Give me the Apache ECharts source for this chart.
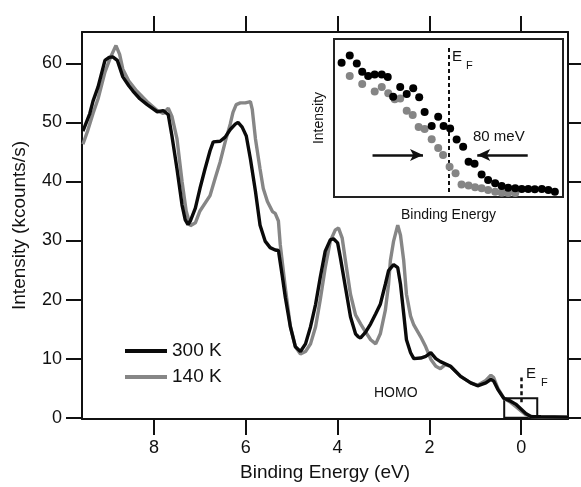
<!DOCTYPE html>
<html>
<head>
<meta charset="utf-8">
<script src="https://cdn.jsdelivr.net/npm/echarts@6/dist/echarts.min.js"></script>
<style>
html,body{margin:0;padding:0;background:#fff;}
#chart{width:581px;height:487px;}
</style>
</head>
<body>
<div id="chart"></div>
<script>
// ---- Main spectra: binding energy (eV) and intensity (kcounts/s) ----
var be300 = [9.55,9.51,9.40,9.33,9.22,9.07,8.98,8.90,8.80,8.68,8.55,8.46,8.31,8.15,7.93,7.80,7.69,7.61,7.50,7.39,7.32,7.26,7.21,7.10,7.00,6.89,6.78,6.71,6.56,6.45,6.34,6.23,6.17,6.08,5.99,5.90,5.79,5.69,5.58,5.47,5.36,5.29,5.21,5.14,5.03,4.92,4.81,4.70,4.59,4.48,4.38,4.27,4.16,4.09,4.00,3.94,3.83,3.72,3.61,3.55,3.50,3.39,3.28,3.17,3.07,2.96,2.89,2.78,2.69,2.63,2.56,2.50,2.41,2.34,2.19,2.08,1.97,1.93,1.86,1.76,1.54,1.32,1.10,0.95,0.77,0.66,0.60,0.51,0.38,0.23,0.12,0.01,-0.10,-0.21,-0.43,-1.02];
var int300 = [48.5,48.8,51.5,53.6,56.0,60.5,61.0,61.1,60.5,57.7,56.2,55.3,54.0,53.0,51.8,52.0,51.3,47.7,42.1,36.0,33.5,32.7,33.3,35.5,38.8,42.1,45.2,46.7,46.8,47.5,48.8,49.7,50.0,49.2,47.7,43.8,38.3,32.6,29.9,28.8,28.4,28.3,24.2,20.4,15.4,12.0,11.2,12.5,15.4,19.2,23.7,28.2,30.1,30.3,29.6,27.1,22.1,17.1,14.2,13.7,13.5,14.5,15.9,17.6,19.2,22.6,24.9,25.9,25.4,22.6,17.6,13.2,11.0,10.0,10.1,10.4,11.0,11.2,10.0,9.5,8.7,7.0,5.9,5.4,5.9,6.5,6.2,4.8,3.3,2.8,2.3,1.5,0.7,0.2,0.15,0.1];
var be140 = [9.55,9.45,9.33,9.22,9.07,8.95,8.83,8.75,8.68,8.55,8.40,8.15,7.93,7.80,7.69,7.61,7.50,7.39,7.30,7.21,7.10,7.00,6.78,6.67,6.56,6.45,6.34,6.28,6.21,6.12,6.01,5.90,5.86,5.79,5.69,5.62,5.53,5.42,5.36,5.29,5.25,5.14,5.03,4.92,4.81,4.70,4.59,4.48,4.38,4.27,4.16,4.05,3.98,3.90,3.83,3.72,3.61,3.50,3.39,3.28,3.17,3.07,2.96,2.89,2.85,2.78,2.69,2.63,2.56,2.50,2.41,2.34,2.19,2.08,1.97,1.86,1.76,1.65,1.54,1.32,1.10,0.95,0.77,0.66,0.60,0.51,0.38,0.23,0.12,0.01,-0.10,-0.21,-0.43,-1.02];
var int140 = [46.3,48.5,51.5,54.0,58.5,61.0,63.0,61.5,59.0,57.0,55.5,53.5,52.0,51.5,52.4,51.0,47.2,40.0,35.0,32.5,33.0,35.0,37.6,40.5,43.3,46.7,49.7,51.7,53.0,53.3,53.3,53.5,52.2,47.2,42.1,38.8,36.6,34.9,34.6,33.3,29.3,22.0,15.5,12.0,10.8,11.2,12.5,15.4,19.9,25.4,29.9,31.8,32.1,30.4,26.6,20.9,17.4,15.9,14.5,13.2,12.5,14.2,18.2,22.6,26.6,29.9,32.6,30.9,26.6,20.9,17.2,15.7,13.7,12.0,9.9,8.7,8.3,9.0,8.7,7.0,5.9,5.5,6.3,7.2,6.8,5.0,3.3,2.6,1.9,1.2,0.5,0.2,0.1,0.1];

// ---- Inset: energy relative to E_F (meV) and intensity (arb. units) ----
var insetBE300 = [197,182,169,159,148,136,123,112,102,89,77,65,54,44,31,19,9,-3,-15,-27,-37,-48,-61,-73,-86,-98,-110,-123,-135,-147,-159,-172,-184,-196];
var insetI300 = [85.0,89.6,84.5,79.3,76.6,77.5,77.5,75.9,63.5,69.6,65.2,68.8,63.1,53.8,44.9,50.8,44.9,43.4,36.4,31.8,22.3,21.1,14.2,10.8,8.7,7.0,5.9,5.5,5.1,5.1,4.9,5.1,4.4,3.4];
var insetBE140 = [182,159,136,123,111,99,89,77,66,55,44,31,19,10,-2,-13,-24,-37,-49,-61,-73,-86,-98,-110,-123];
var insetI140 = [76.6,71.5,66.8,69.6,65.6,61.8,62.3,54.6,51.9,44.3,43.0,36.5,31.0,26.6,19.2,15.0,7.9,7.3,6.1,5.5,4.4,3.4,2.7,2.5,2.5];

// ---- Tick values ----
var xTicks = [0,2,4,6,8];
var yTicks = [0,10,20,30,40,50,60];
var seriesNames = ['300 K','140 K'];

function pairs(xs, ys){ return xs.map(function(x,i){ return [x, ys[i]]; }); }

var FONT = 'Liberation Sans, Arial, Helvetica, sans-serif';
var chart = echarts.init(document.getElementById('chart'), null, {renderer:'canvas'});

var frameLine = {show:true, onZero:false, lineStyle:{color:'#111', width:2}};
var tickStyle = {color:'#111', width:2};

chart.setOption({
  animation:false,
  backgroundColor:'#fff',
  textStyle:{fontFamily:FONT},
  legend:{
    data:seriesNames,
    orient:'vertical',
    left:120, top:336,
    icon:'rect', itemWidth:42, itemHeight:4, itemGap:6,
    textStyle:{fontFamily:FONT, fontSize:19, color:'#111', lineHeight:20},
    selectedMode:false
  },
  grid:[
    {left:82, top:32, width:486, height:391, show:false},
    {left:334, top:39, width:229, height:158, show:true, borderColor:'#222', borderWidth:2, backgroundColor:'rgba(0,0,0,0)', z:5}
  ],
  xAxis:[
    {type:'value', gridIndex:0, position:'bottom', min:-1.02, max:9.57, inverse:true,
     name:'Binding Energy (eV)', nameLocation:'middle', nameGap:44,
     nameTextStyle:{fontFamily:FONT, fontSize:19, color:'#111'},
     axisLine:frameLine,
     axisTick:{show:true, inside:false, length:16, lineStyle:tickStyle, customValues:xTicks},
     axisLabel:{show:true, margin:20, fontFamily:FONT, fontSize:18, color:'#111', customValues:xTicks},
     splitLine:{show:false}},
    {type:'value', gridIndex:0, position:'top', min:-1.02, max:9.57, inverse:true,
     axisLine:frameLine,
     axisTick:{show:true, inside:false, length:16, lineStyle:tickStyle, customValues:xTicks},
     axisLabel:{show:false},
     splitLine:{show:false}},
    {type:'value', gridIndex:1, min:-211, max:211, inverse:true,
     name:'Binding Energy', nameLocation:'middle', nameGap:11,
     nameTextStyle:{fontFamily:FONT, fontSize:14, color:'#111'},
     axisLine:{show:false, onZero:false}, axisTick:{show:false}, axisLabel:{show:false}, splitLine:{show:false}}
  ],
  yAxis:[
    {type:'value', gridIndex:0, position:'left', min:-0.22, max:65.3,
     name:'Intensity (kcounts/s)', nameLocation:'middle', nameGap:53,
     nameTextStyle:{fontFamily:FONT, fontSize:19, color:'#111'},
     axisLine:frameLine,
     axisTick:{show:true, inside:false, length:16, lineStyle:tickStyle, customValues:yTicks},
     axisLabel:{show:true, margin:20, fontFamily:FONT, fontSize:18, color:'#111', customValues:yTicks},
     splitLine:{show:false}},
    {type:'value', gridIndex:0, position:'right', min:-0.22, max:65.3,
     axisLine:frameLine,
     axisTick:{show:true, inside:false, length:16, lineStyle:tickStyle, customValues:yTicks},
     axisLabel:{show:false},
     splitLine:{show:false}},
    {type:'value', gridIndex:1, min:0, max:100,
     name:'Intensity', nameLocation:'middle', nameGap:8,
     nameTextStyle:{fontFamily:FONT, fontSize:14, color:'#111'},
     axisLine:{show:false, onZero:false}, axisTick:{show:false}, axisLabel:{show:false}, splitLine:{show:false}}
  ],
  series:[
    {name:seriesNames[1], type:'line', xAxisIndex:0, yAxisIndex:0, data:pairs(be140,int140),
     showSymbol:false, symbol:'none', lineStyle:{color:'#868686', width:3.4}, itemStyle:{color:'#868686'}, z:2},
    {name:seriesNames[0], type:'line', xAxisIndex:0, yAxisIndex:0, data:pairs(be300,int300),
     showSymbol:false, symbol:'none', lineStyle:{color:'#0a0a0a', width:3.4}, itemStyle:{color:'#0a0a0a'}, z:3,
     markLine:{silent:true, symbol:'none', label:{show:false},
       lineStyle:{color:'#111', width:2.5, type:[4,3]},
       data:[[{coord:[0,2.6]},{coord:[0,6.8]}]]},
     markArea:{silent:true, label:{show:false},
       itemStyle:{color:'rgba(0,0,0,0)', borderColor:'#111', borderWidth:2},
       data:[[{coord:[0.37,0]},{coord:[-0.35,3.3]}]]}},
    {name:'inset140', type:'scatter', xAxisIndex:2, yAxisIndex:2, data:pairs(insetBE140,insetI140),
     symbol:'circle', symbolSize:8, itemStyle:{color:'#858585', opacity:1}, z:6},
    {name:'inset300', type:'scatter', xAxisIndex:2, yAxisIndex:2, data:pairs(insetBE300,insetI300),
     symbol:'circle', symbolSize:8, itemStyle:{color:'#000', opacity:1}, z:7,
     markLine:{silent:true, label:{show:false}, symbol:['none','none'],
       lineStyle:{color:'#111', width:2, type:[4,3]},
       data:[
         [{coord:[0,3.2]},{coord:[0,95.8]}],
         [{coord:[140,26.6], symbol:'none', lineStyle:{type:'solid', width:2.5}},{coord:[47,26.6], symbol:'arrow', symbolSize:[9,13], symbolRotate:-90}],
         [{coord:[-146,26.6], symbol:'none', lineStyle:{type:'solid', width:2.5}},{coord:[-53,26.6], symbol:'arrow', symbolSize:[9,13], symbolRotate:90}]
       ]}}
  ],
  graphic:[
    {type:'text', left:374, top:386, z:20, style:{text:'HOMO', fontFamily:FONT, fontSize:14, fill:'#111'}},
    {type:'text', left:526, top:366, z:20, style:{text:'E', fontFamily:FONT, fontSize:15, fill:'#111'}},
    {type:'text', left:541, top:377, z:20, style:{text:'F', fontFamily:FONT, fontSize:11, fill:'#111'}},
    {type:'text', left:452, top:49, z:20, style:{text:'E', fontFamily:FONT, fontSize:15, fill:'#111'}},
    {type:'text', left:466, top:60, z:20, style:{text:'F', fontFamily:FONT, fontSize:11, fill:'#111'}},
    {type:'text', left:473, top:129, z:20, style:{text:'80 meV', fontFamily:FONT, fontSize:15, fill:'#111'}}
  ]
});
</script>
</body>
</html>
